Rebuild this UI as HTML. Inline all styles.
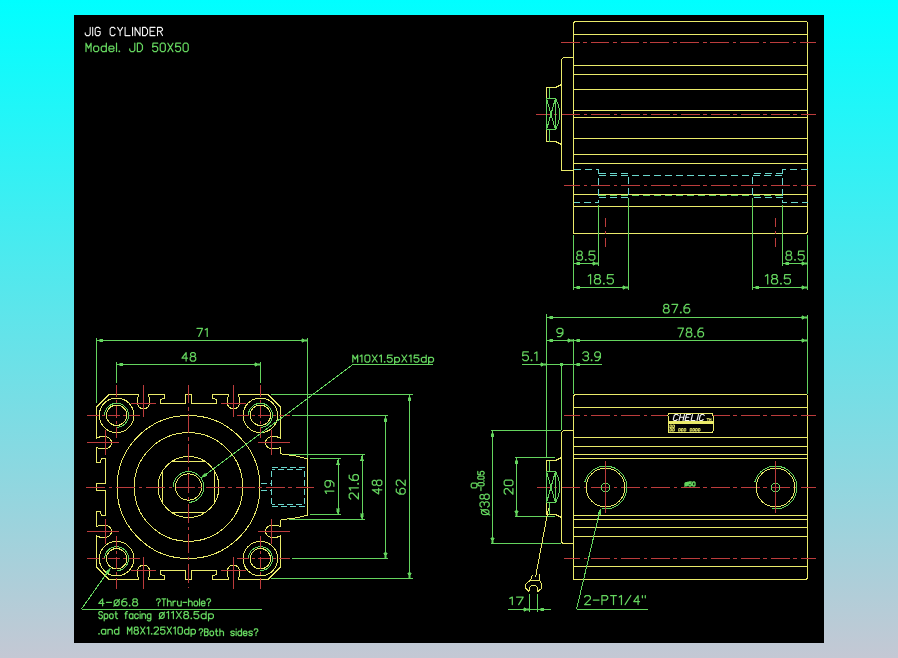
<!DOCTYPE html>
<html><head><meta charset="utf-8"><style>
html,body{margin:0;padding:0;width:898px;height:658px;overflow:hidden;}
body{background:linear-gradient(to bottom,#00ffff 0%,#c4c8d4 100%);}
svg{position:absolute;left:0;top:0;}
text{font-family:"Liberation Sans",sans-serif;}
</style></head><body>
<svg width="898" height="658" viewBox="0 0 898 658" shape-rendering="crispEdges">
<rect x="74" y="15" width="750" height="628" fill="#000"/>
<g stroke-width="1" fill="none">
<path d="M573.5 233.5 L573.5 24 Q573.5 21.5 576 21.5 L805 21.5 Q807.5 21.5 807.5 24 L807.5 231 Q807.5 233.5 805 233.5 Z" stroke="#eaea6a" fill="none"/>
<line x1="573.5" y1="34.5" x2="807.5" y2="34.5" stroke="#eaea6a"/>
<line x1="573.5" y1="65.5" x2="807.5" y2="65.5" stroke="#eaea6a"/>
<line x1="573.5" y1="74.5" x2="807.5" y2="74.5" stroke="#eaea6a"/>
<line x1="573.5" y1="89.5" x2="807.5" y2="89.5" stroke="#eaea6a"/>
<line x1="573.5" y1="110.5" x2="807.5" y2="110.5" stroke="#eaea6a"/>
<line x1="573.5" y1="117.5" x2="807.5" y2="117.5" stroke="#eaea6a"/>
<line x1="573.5" y1="138.5" x2="807.5" y2="138.5" stroke="#eaea6a"/>
<line x1="573.5" y1="154.5" x2="807.5" y2="154.5" stroke="#eaea6a"/>
<line x1="573.5" y1="163.5" x2="807.5" y2="163.5" stroke="#eaea6a"/>
<line x1="573.5" y1="194.5" x2="807.5" y2="194.5" stroke="#eaea6a"/>
<line x1="573.5" y1="206.5" x2="807.5" y2="206.5" stroke="#eaea6a"/>
<line x1="560.6" y1="42.5" x2="815.7" y2="42.5" stroke="#bc3c3c" stroke-dasharray="18.9 3.7 3.5 3.85"/>
<line x1="536" y1="114.5" x2="815.7" y2="114.5" stroke="#bc3c3c" stroke-dasharray="18.9 3.7 3.5 3.85" stroke-dashoffset="5"/>
<line x1="563.9" y1="185.5" x2="815.7" y2="185.5" stroke="#bc3c3c" stroke-dasharray="18.9 3.7 3.5 3.85" stroke-dashoffset="2.9"/>
<path d="M573.5 57.5 L564.5 57.5 Q561.5 57.5 561.5 60.5 L561.5 170.5 L573.5 170.5" stroke="#eaea6a" fill="none"/>
<path d="M561.5 84.5 L555.5 87.5 L546.5 87.5 L546.5 141.5 L555.5 141.5 L561.5 144.5" stroke="#eaea6a" fill="none"/>
<line x1="549.5" y1="87.5" x2="549.5" y2="98.5" stroke="#64d45e"/>
<line x1="549.5" y1="129.5" x2="549.5" y2="141.5" stroke="#64d45e"/>
<path d="M546.5 98.5 L555.5 98.5 L555.5 129.5 L546.5 129.5 Z" stroke="#64d45e" fill="none"/>
<line x1="547" y1="100" x2="555" y2="128" stroke="#64d45e"/>
<line x1="555" y1="100" x2="547" y2="128" stroke="#64d45e"/>
<path d="M555.5 98.5 Q564 114 555.5 129.5" stroke="#64d45e" fill="none"/>
<path d="M573.5 169.5 L598.5 169.5 L598.5 202.5 L573.5 202.5" stroke="#6ad6cc" fill="none" stroke-dasharray="7 4"/>
<path d="M598.5 173.5 L628.5 173.5 L628.5 197.5 L598.5 197.5" stroke="#6ad6cc" fill="none" stroke-dasharray="7 4"/>
<path d="M807.5 169.5 L782.5 169.5 L782.5 202.5 L807.5 202.5" stroke="#6ad6cc" fill="none" stroke-dasharray="7 4"/>
<path d="M782.5 173.5 L752.5 173.5 L752.5 197.5 L782.5 197.5" stroke="#6ad6cc" fill="none" stroke-dasharray="7 4"/>
<line x1="598.5" y1="175.5" x2="782.5" y2="175.5" stroke="#6ad6cc" stroke-dasharray="7 4"/>
<line x1="598.5" y1="195.5" x2="782.5" y2="195.5" stroke="#64d45e" stroke-dasharray="7 4"/>
<line x1="573.5" y1="235" x2="573.5" y2="290" stroke="#64d45e"/>
<line x1="598.5" y1="205" x2="598.5" y2="266" stroke="#64d45e"/>
<line x1="628.5" y1="198" x2="628.5" y2="290" stroke="#64d45e"/>
<line x1="752.5" y1="198" x2="752.5" y2="290" stroke="#64d45e"/>
<line x1="782.5" y1="205" x2="782.5" y2="266" stroke="#64d45e"/>
<line x1="807.5" y1="235" x2="807.5" y2="290" stroke="#64d45e"/>
<line x1="605.5" y1="218" x2="605.5" y2="248" stroke="#bc3c3c" stroke-dasharray="9 4.4 2.2 4.4"/>
<line x1="775.5" y1="218" x2="775.5" y2="248" stroke="#bc3c3c" stroke-dasharray="9 4.4 2.2 4.4"/>
<line x1="573.5" y1="263.5" x2="598.5" y2="263.5" stroke="#64d45e"/>
<path d="M573.5 263.5L579.5 261.9L579.5 265.1Z" fill="#64d45e" stroke="#64d45e" stroke-width="0.5"/>
<path d="M598.5 263.5L592.5 265.1L592.5 261.9Z" fill="#64d45e" stroke="#64d45e" stroke-width="0.5"/>
<line x1="573.5" y1="287.5" x2="628.5" y2="287.5" stroke="#64d45e"/>
<path d="M573.5 287.5L579.5 285.9L579.5 289.1Z" fill="#64d45e" stroke="#64d45e" stroke-width="0.5"/>
<path d="M628.5 287.5L622.5 289.1L622.5 285.9Z" fill="#64d45e" stroke="#64d45e" stroke-width="0.5"/>
<line x1="782.5" y1="263.5" x2="807.5" y2="263.5" stroke="#64d45e"/>
<path d="M782.5 263.5L788.5 261.9L788.5 265.1Z" fill="#64d45e" stroke="#64d45e" stroke-width="0.5"/>
<path d="M807.5 263.5L801.5 265.1L801.5 261.9Z" fill="#64d45e" stroke="#64d45e" stroke-width="0.5"/>
<line x1="752.5" y1="287.5" x2="807.5" y2="287.5" stroke="#64d45e"/>
<path d="M752.5 287.5L758.5 285.9L758.5 289.1Z" fill="#64d45e" stroke="#64d45e" stroke-width="0.5"/>
<path d="M807.5 287.5L801.5 289.1L801.5 285.9Z" fill="#64d45e" stroke="#64d45e" stroke-width="0.5"/>
<path d="M573.5 579.5 L573.5 397 Q573.5 394.5 576 394.5 L805 394.5 Q807.5 394.5 807.5 397 L807.5 577 Q807.5 579.5 805 579.5 Z" stroke="#eaea6a" fill="none"/>
<line x1="573.5" y1="407.5" x2="807.5" y2="407.5" stroke="#eaea6a"/>
<line x1="573.5" y1="437.5" x2="807.5" y2="437.5" stroke="#eaea6a"/>
<line x1="573.5" y1="446.5" x2="807.5" y2="446.5" stroke="#eaea6a"/>
<line x1="573.5" y1="454.5" x2="807.5" y2="454.5" stroke="#eaea6a"/>
<line x1="573.5" y1="458.5" x2="807.5" y2="458.5" stroke="#eaea6a"/>
<line x1="573.5" y1="515.5" x2="807.5" y2="515.5" stroke="#eaea6a"/>
<line x1="573.5" y1="519.5" x2="807.5" y2="519.5" stroke="#eaea6a"/>
<line x1="573.5" y1="527.5" x2="807.5" y2="527.5" stroke="#eaea6a"/>
<line x1="573.5" y1="536.5" x2="807.5" y2="536.5" stroke="#eaea6a"/>
<line x1="573.5" y1="566.5" x2="807.5" y2="566.5" stroke="#eaea6a"/>
<line x1="563.9" y1="415.5" x2="815.7" y2="415.5" stroke="#bc3c3c" stroke-dasharray="18.9 3.7 3.5 3.85" stroke-dashoffset="2.9"/>
<line x1="536.7" y1="487.5" x2="815.7" y2="487.5" stroke="#bc3c3c" stroke-dasharray="18.9 3.7 3.5 3.85" stroke-dashoffset="5.6"/>
<line x1="563.9" y1="558.5" x2="815.7" y2="558.5" stroke="#bc3c3c" stroke-dasharray="18.9 3.7 3.5 3.85" stroke-dashoffset="2.9"/>
<path d="M573.5 430.5 L564.5 430.5 Q561.5 430.5 561.5 433.5 L561.5 540.5 Q561.5 543.5 564.5 543.5 L573.5 543.5" stroke="#eaea6a" fill="none"/>
<path d="M561.5 457.5 L555.5 460.5 L546.5 460.5 L546.5 514.5 L555.5 514.5 L561.5 517.5" stroke="#eaea6a" fill="none"/>
<line x1="549.5" y1="460.5" x2="549.5" y2="471.5" stroke="#64d45e"/>
<line x1="549.5" y1="502.5" x2="549.5" y2="514.5" stroke="#64d45e"/>
<path d="M546.5 471.5 L555.5 471.5 L555.5 502.5 L546.5 502.5 Z" stroke="#64d45e" fill="none"/>
<line x1="547" y1="473" x2="555" y2="501" stroke="#64d45e"/>
<line x1="555" y1="473" x2="547" y2="501" stroke="#64d45e"/>
<path d="M555.5 471.5 Q564 487 555.5 502.5" stroke="#64d45e" fill="none"/>
<path d="M670 413.5 L711 413.5 Q713 413.5 713 415.5 L713 430.5 Q713 432.5 711 432.5 L670 432.5 Q668 432.5 668 430.5 L668 415.5 Q668 413.5 670 413.5 Z" stroke="#eaea6a" fill="#000"/>
<rect x="668" y="421" width="45" height="2.8" fill="#eaea6a"/>
<circle cx="605.5" cy="487.5" r="19.4" stroke="#eaea6a" fill="none"/>
<path d="M584.83 481.96A21.4 21.4 0 1 1 601.78 508.57" stroke="#64d45e" fill="none"/>
<circle cx="605.5" cy="487.5" r="4.1" stroke="#64d45e" fill="none"/>
<line x1="605.5" y1="460.5" x2="605.5" y2="512.5" stroke="#bc3c3c"/>
<circle cx="775.5" cy="487.5" r="19.4" stroke="#eaea6a" fill="none"/>
<path d="M754.83 481.96A21.4 21.4 0 1 1 771.78 508.57" stroke="#64d45e" fill="none"/>
<circle cx="775.5" cy="487.5" r="4.1" stroke="#64d45e" fill="none"/>
<line x1="775.5" y1="460.5" x2="775.5" y2="512.5" stroke="#bc3c3c"/>
<line x1="546.5" y1="314" x2="546.5" y2="457" stroke="#64d45e"/>
<line x1="807.5" y1="315" x2="807.5" y2="394" stroke="#64d45e"/>
<line x1="573.5" y1="338.5" x2="573.5" y2="394" stroke="#64d45e"/>
<line x1="561.5" y1="362.5" x2="561.5" y2="430" stroke="#64d45e"/>
<line x1="546.5" y1="317.5" x2="807.5" y2="317.5" stroke="#64d45e"/>
<path d="M546.5 317.5L552.5 315.9L552.5 319.1Z" fill="#64d45e" stroke="#64d45e" stroke-width="0.5"/>
<path d="M807.5 317.5L801.5 319.1L801.5 315.9Z" fill="#64d45e" stroke="#64d45e" stroke-width="0.5"/>
<line x1="546.5" y1="340.5" x2="807.5" y2="340.5" stroke="#64d45e"/>
<path d="M546.5 340.5L552.5 338.9L552.5 342.1Z" fill="#64d45e" stroke="#64d45e" stroke-width="0.5"/>
<path d="M573.5 340.5L567.5 342.1L567.5 338.9Z" fill="#64d45e" stroke="#64d45e" stroke-width="0.5"/>
<path d="M573.5 340.5L579.5 338.9L579.5 342.1Z" fill="#64d45e" stroke="#64d45e" stroke-width="0.5"/>
<path d="M807.5 340.5L801.5 342.1L801.5 338.9Z" fill="#64d45e" stroke="#64d45e" stroke-width="0.5"/>
<line x1="521.5" y1="364.5" x2="601.5" y2="364.5" stroke="#64d45e"/>
<path d="M546.5 364.5L540.5 366.1L540.5 362.9Z" fill="#64d45e" stroke="#64d45e" stroke-width="0.5"/>
<circle cx="561.5" cy="364.5" r="1.2" stroke="#64d45e" fill="#64d45e"/>
<path d="M573.5 364.5L579.5 362.9L579.5 366.1Z" fill="#64d45e" stroke="#64d45e" stroke-width="0.5"/>
<line x1="491" y1="430.5" x2="561" y2="430.5" stroke="#64d45e"/>
<line x1="491" y1="543.5" x2="561" y2="543.5" stroke="#64d45e"/>
<line x1="492.5" y1="430.5" x2="492.5" y2="543.5" stroke="#64d45e"/>
<path d="M492.5 430.5L494.1 436.5L490.9 436.5Z" fill="#64d45e" stroke="#64d45e" stroke-width="0.5"/>
<path d="M492.5 543.5L490.9 537.5L494.1 537.5Z" fill="#64d45e" stroke="#64d45e" stroke-width="0.5"/>
<line x1="514.5" y1="457.5" x2="555" y2="457.5" stroke="#64d45e"/>
<line x1="514.5" y1="516.5" x2="555" y2="516.5" stroke="#64d45e"/>
<line x1="516.5" y1="457.5" x2="516.5" y2="516.5" stroke="#64d45e"/>
<path d="M516.5 457.5L518.1 463.5L514.9 463.5Z" fill="#64d45e" stroke="#64d45e" stroke-width="0.5"/>
<path d="M516.5 516.5L514.9 510.5L518.1 510.5Z" fill="#64d45e" stroke="#64d45e" stroke-width="0.5"/>
<line x1="548.5" y1="508" x2="535.6" y2="577" stroke="#eaea6a"/>
<path d="M529 591.6 L525.7 588 L525.7 584.4 L529.8 580.6 L539.8 580.6 L541.8 584.4 L541.8 588 L538 591.6 L537.5 587.5 L535.5 585.2 L531.5 585.2 L529.5 587.5 Z" stroke="#eaea6a" fill="none"/>
<line x1="532.6" y1="575" x2="530.2" y2="580.6" stroke="#eaea6a"/>
<line x1="539.5" y1="574" x2="539.8" y2="580.6" stroke="#eaea6a"/>
<line x1="529.5" y1="594" x2="529.5" y2="612" stroke="#64d45e"/>
<line x1="537.5" y1="594" x2="537.5" y2="612" stroke="#64d45e"/>
<line x1="508" y1="609.5" x2="551" y2="609.5" stroke="#64d45e"/>
<path d="M529.5 609.5L523.5 611.1L523.5 607.9Z" fill="#64d45e" stroke="#64d45e" stroke-width="0.5"/>
<path d="M537.5 609.5L543.5 607.9L543.5 611.1Z" fill="#64d45e" stroke="#64d45e" stroke-width="0.5"/>
<line x1="600" y1="510" x2="576.5" y2="609.5" stroke="#64d45e"/>
<line x1="576.5" y1="609.5" x2="648" y2="609.5" stroke="#64d45e"/>
<path d="M600.5 508.5L600.71 514.71L597.6 513.99Z" fill="#64d45e" stroke="#64d45e" stroke-width="0.5"/>
<path d="M108.85 394.5L138.82 394.5L137.52 398.4L137.52 403.46A6.05 6.05 0 0 0 149.57 403.46L149.57 398.4L148.27 394.5L164.01 394.5L164.01 398.35L160.22 399.56L160.22 403.46L185.21 403.46L185.21 394.5L191.79 394.5L191.79 403.46L216.78 403.46L216.78 399.56L212.99 398.35L212.99 394.5L228.73 394.5L227.43 398.4L227.43 403.46A6.05 6.05 0 0 0 239.48 403.46L239.48 398.4L238.18 394.5L268.15 394.5L280.5 406.91L280.5 438L276.62 436.7L271.59 436.7A6.05 6.05 0 0 0 271.59 448.81L276.62 448.81L280.5 447.51L280.5 453.7L284.2 454.4Q296 455.5 306.5 458.5L307.5 458.5L307.5 515.5L306.5 515.5Q296 518.3 284.2 519.4L280.5 520.1L280.5 526.49L276.62 525.19L271.59 525.19A6.05 6.05 0 0 0 271.59 537.3L276.62 537.3L280.5 536L280.5 567.09L268.15 579.5L238.18 579.5L239.48 575.6L239.48 570.54A6.05 6.05 0 0 0 227.43 570.54L227.43 575.6L228.73 579.5L212.99 579.5L212.99 575.65L216.78 574.44L216.78 570.54L191.79 570.54L191.79 579.5L185.21 579.5L185.21 570.54L160.22 570.54L160.22 574.44L164.01 575.65L164.01 579.5L148.27 579.5L149.57 575.6L149.57 570.54A6.05 6.05 0 0 0 137.52 570.54L137.52 575.6L138.82 579.5L108.85 579.5L96.5 567.09L96.5 536L100.38 537.3L105.41 537.3A6.05 6.05 0 0 0 105.41 525.19L100.38 525.19L96.5 526.49L96.5 511.63L100.33 511.63L101.53 515.43L105.41 515.43L105.41 490.3L96.5 490.3L96.5 483.7L105.41 483.7L105.41 458.57L101.53 458.57L100.33 462.37L96.5 462.37L96.5 447.51L100.38 448.81L105.41 448.81A6.05 6.05 0 0 0 105.41 436.7L100.38 436.7L96.5 438L96.5 406.91Z" stroke="#eaea6a" fill="none"/>
<circle cx="188.5" cy="487" r="71.5" stroke="#eaea6a" fill="none"/>
<circle cx="188.5" cy="487" r="54.3" stroke="#eaea6a" fill="none"/>
<circle cx="188.5" cy="487" r="30.5" stroke="#eaea6a" fill="none"/>
<line x1="172.23" y1="461.2" x2="204.77" y2="461.2" stroke="#eaea6a"/>
<line x1="214.3" y1="470.73" x2="214.3" y2="503.27" stroke="#eaea6a"/>
<line x1="204.77" y1="512.8" x2="172.23" y2="512.8" stroke="#eaea6a"/>
<line x1="162.7" y1="503.27" x2="162.7" y2="470.73" stroke="#eaea6a"/>
<path d="M173.2 487A15.3 15.3 0 1 1 188.5 502.3" stroke="#64d45e" fill="none"/>
<circle cx="188.5" cy="487" r="13.1" stroke="#eaea6a" fill="none"/>
<line x1="86" y1="487.5" x2="314" y2="487.5" stroke="#bc3c3c" stroke-dasharray="18.9 3.7 3.5 3.85"/>
<line x1="188.5" y1="384.5" x2="188.5" y2="588" stroke="#bc3c3c" stroke-dasharray="18.9 3.7 3.5 3.85"/>
<circle cx="116.6" cy="415.3" r="17.3" stroke="#eaea6a" fill="none"/>
<path d="M104.6 415.3A12 12 0 1 1 116.6 427.3" stroke="#64d45e" fill="none"/>
<circle cx="116.6" cy="415.3" r="10.2" stroke="#eaea6a" fill="none"/>
<line x1="86.6" y1="415.3" x2="139.7" y2="415.3" stroke="#bc3c3c" stroke-dasharray="12 3 3 3"/>
<line x1="116.6" y1="385.3" x2="116.6" y2="438.4" stroke="#bc3c3c" stroke-dasharray="12 3 3 3"/>
<circle cx="116.6" cy="558.7" r="17.3" stroke="#eaea6a" fill="none"/>
<path d="M104.6 558.7A12 12 0 1 1 116.6 570.7" stroke="#64d45e" fill="none"/>
<circle cx="116.6" cy="558.7" r="10.2" stroke="#eaea6a" fill="none"/>
<line x1="86.6" y1="558.7" x2="139.7" y2="558.7" stroke="#bc3c3c" stroke-dasharray="12 3 3 3"/>
<line x1="116.6" y1="535.6" x2="116.6" y2="588.7" stroke="#bc3c3c" stroke-dasharray="12 3 3 3"/>
<circle cx="260.4" cy="415.3" r="17.3" stroke="#eaea6a" fill="none"/>
<path d="M248.4 415.3A12 12 0 1 1 260.4 427.3" stroke="#64d45e" fill="none"/>
<circle cx="260.4" cy="415.3" r="10.2" stroke="#eaea6a" fill="none"/>
<line x1="237.3" y1="415.3" x2="290.4" y2="415.3" stroke="#bc3c3c" stroke-dasharray="12 3 3 3"/>
<line x1="260.4" y1="385.3" x2="260.4" y2="438.4" stroke="#bc3c3c" stroke-dasharray="12 3 3 3"/>
<circle cx="260.4" cy="558.7" r="17.3" stroke="#eaea6a" fill="none"/>
<path d="M248.4 558.7A12 12 0 1 1 260.4 570.7" stroke="#64d45e" fill="none"/>
<circle cx="260.4" cy="558.7" r="10.2" stroke="#eaea6a" fill="none"/>
<line x1="237.3" y1="558.7" x2="290.4" y2="558.7" stroke="#bc3c3c" stroke-dasharray="12 3 3 3"/>
<line x1="260.4" y1="535.6" x2="260.4" y2="588.7" stroke="#bc3c3c" stroke-dasharray="12 3 3 3"/>
<line x1="131.05" y1="403.46" x2="156.05" y2="403.46" stroke="#bc3c3c"/>
<line x1="143.55" y1="416.96" x2="143.55" y2="385.46" stroke="#bc3c3c"/>
<line x1="220.95" y1="403.46" x2="245.95" y2="403.46" stroke="#bc3c3c"/>
<line x1="233.45" y1="416.96" x2="233.45" y2="385.46" stroke="#bc3c3c"/>
<line x1="271.59" y1="430.25" x2="271.59" y2="455.25" stroke="#bc3c3c"/>
<line x1="258.09" y1="442.75" x2="289.59" y2="442.75" stroke="#bc3c3c"/>
<line x1="271.59" y1="518.75" x2="271.59" y2="543.75" stroke="#bc3c3c"/>
<line x1="258.09" y1="531.25" x2="289.59" y2="531.25" stroke="#bc3c3c"/>
<line x1="245.95" y1="570.54" x2="220.95" y2="570.54" stroke="#bc3c3c"/>
<line x1="233.45" y1="557.04" x2="233.45" y2="588.54" stroke="#bc3c3c"/>
<line x1="156.05" y1="570.54" x2="131.05" y2="570.54" stroke="#bc3c3c"/>
<line x1="143.55" y1="557.04" x2="143.55" y2="588.54" stroke="#bc3c3c"/>
<line x1="105.41" y1="543.75" x2="105.41" y2="518.75" stroke="#bc3c3c"/>
<line x1="118.91" y1="531.25" x2="87.41" y2="531.25" stroke="#bc3c3c"/>
<line x1="105.41" y1="455.25" x2="105.41" y2="430.25" stroke="#bc3c3c"/>
<line x1="118.91" y1="442.75" x2="87.41" y2="442.75" stroke="#bc3c3c"/>
<path d="M271.5 467.5 L304.5 467.5 L304.5 506.5 L271.5 506.5 Z" stroke="#6ad6cc" fill="none" stroke-dasharray="6 3"/>
<line x1="271.5" y1="469.5" x2="304.5" y2="469.5" stroke="#6ad6cc" stroke-dasharray="6 3" stroke-dashoffset="3"/>
<line x1="271.5" y1="504.5" x2="304.5" y2="504.5" stroke="#6ad6cc" stroke-dasharray="6 3" stroke-dashoffset="3"/>
<line x1="260.5" y1="483.5" x2="271.5" y2="483.5" stroke="#6ad6cc" stroke-dasharray="6 3"/>
<line x1="260.5" y1="490.5" x2="271.5" y2="490.5" stroke="#6ad6cc" stroke-dasharray="6 3"/>
<line x1="96.5" y1="338" x2="96.5" y2="403" stroke="#64d45e"/>
<line x1="307.5" y1="338" x2="307.5" y2="458" stroke="#64d45e"/>
<line x1="96.5" y1="340.5" x2="307.5" y2="340.5" stroke="#64d45e"/>
<path d="M96.5 340.5L102.5 338.9L102.5 342.1Z" fill="#64d45e" stroke="#64d45e" stroke-width="0.5"/>
<path d="M307.5 340.5L301.5 342.1L301.5 338.9Z" fill="#64d45e" stroke="#64d45e" stroke-width="0.5"/>
<line x1="116.5" y1="362" x2="116.5" y2="382.5" stroke="#64d45e"/>
<line x1="260.5" y1="362" x2="260.5" y2="382.5" stroke="#64d45e"/>
<line x1="116.5" y1="364.5" x2="260.5" y2="364.5" stroke="#64d45e"/>
<path d="M116.5 364.5L122.5 362.9L122.5 366.1Z" fill="#64d45e" stroke="#64d45e" stroke-width="0.5"/>
<path d="M260.5 364.5L254.5 366.1L254.5 362.9Z" fill="#64d45e" stroke="#64d45e" stroke-width="0.5"/>
<line x1="201" y1="478" x2="353" y2="364.5" stroke="#64d45e"/>
<path d="M201 478L204.85 473.13L206.76 475.69Z" fill="#64d45e" stroke="#64d45e" stroke-width="0.5"/>
<line x1="353" y1="364.5" x2="433" y2="364.5" stroke="#64d45e"/>
<line x1="271" y1="394.5" x2="412.5" y2="394.5" stroke="#64d45e"/>
<line x1="271" y1="578.5" x2="412.5" y2="578.5" stroke="#64d45e"/>
<line x1="409.5" y1="394.5" x2="409.5" y2="578.5" stroke="#64d45e"/>
<path d="M409.5 394.5L411.1 400.5L407.9 400.5Z" fill="#64d45e" stroke="#64d45e" stroke-width="0.5"/>
<path d="M409.5 578.5L407.9 572.5L411.1 572.5Z" fill="#64d45e" stroke="#64d45e" stroke-width="0.5"/>
<line x1="292" y1="415.5" x2="388" y2="415.5" stroke="#64d45e"/>
<line x1="292" y1="558.5" x2="388" y2="558.5" stroke="#64d45e"/>
<line x1="385.5" y1="415.5" x2="385.5" y2="558.5" stroke="#64d45e"/>
<path d="M385.5 415.5L387.1 421.5L383.9 421.5Z" fill="#64d45e" stroke="#64d45e" stroke-width="0.5"/>
<path d="M385.5 558.5L383.9 552.5L387.1 552.5Z" fill="#64d45e" stroke="#64d45e" stroke-width="0.5"/>
<line x1="289" y1="454.5" x2="364.5" y2="454.5" stroke="#64d45e"/>
<line x1="289" y1="519.5" x2="364.5" y2="519.5" stroke="#64d45e"/>
<line x1="362" y1="454.5" x2="362" y2="519.5" stroke="#64d45e"/>
<path d="M362 454.5L363.6 460.5L360.4 460.5Z" fill="#64d45e" stroke="#64d45e" stroke-width="0.5"/>
<path d="M362 519.5L360.4 513.5L363.6 513.5Z" fill="#64d45e" stroke="#64d45e" stroke-width="0.5"/>
<line x1="309.5" y1="458.5" x2="340.5" y2="458.5" stroke="#64d45e"/>
<line x1="309.5" y1="514.5" x2="340.5" y2="514.5" stroke="#64d45e"/>
<line x1="338" y1="458.5" x2="338" y2="514.5" stroke="#64d45e"/>
<path d="M338 458.5L339.6 464.5L336.4 464.5Z" fill="#64d45e" stroke="#64d45e" stroke-width="0.5"/>
<path d="M338 514.5L336.4 508.5L339.6 508.5Z" fill="#64d45e" stroke="#64d45e" stroke-width="0.5"/>
<line x1="81.5" y1="609" x2="262" y2="609" stroke="#64d45e"/>
<line x1="81.5" y1="609" x2="110.5" y2="568" stroke="#64d45e"/>
<path d="M110.5 568L108.34 573.82L105.73 571.97Z" fill="#64d45e" stroke="#64d45e" stroke-width="0.5"/>
<path d="M90.19 27.40L90.19 34.23L88.94 35.60L86.45 35.60L85.20 34.23L85.20 32.87M92.68 35.60L92.68 27.40M100.16 28.77L98.91 27.40L96.42 27.40L95.17 28.77L95.17 34.23L96.42 35.60L98.91 35.60L100.16 34.23L100.16 31.50L97.67 31.50M115.12 28.77L113.88 27.40L111.38 27.40L110.14 28.77L110.14 34.23L111.38 35.60L113.88 35.60L115.12 34.23M117.62 27.40L120.11 31.50L122.60 27.40M120.11 31.50L120.11 35.60M125.10 27.40L125.10 35.60L130.08 35.60M132.58 35.60L132.58 27.40M135.07 35.60L135.07 27.40L140.06 35.60L140.06 27.40M142.55 35.60L142.55 27.40L145.54 27.40L147.54 29.59L147.54 33.41L145.54 35.60L142.55 35.60M155.02 27.40L150.03 27.40L150.03 35.60L155.02 35.60M150.03 31.23L153.77 31.23M157.51 35.60L157.51 27.40L161.25 27.40L162.50 28.77L162.50 30.00L161.25 31.23L157.51 31.23M160.01 31.23L162.50 35.60" stroke="#f4f4f4" stroke-width="1.1" fill="none" stroke-linejoin="round" stroke-linecap="round" shape-rendering="geometricPrecision"/>
<path d="M86.00 51.60L86.00 43.20L88.54 48.10L91.08 43.20L91.08 51.60M94.90 51.60L97.44 51.60L98.71 50.20L98.71 47.40L97.44 46.00L94.90 46.00L93.63 47.40L93.63 50.20L94.90 51.60M106.34 43.20L106.34 51.60M106.34 47.40L105.07 46.00L102.52 46.00L101.25 47.40L101.25 50.20L102.52 51.60L105.07 51.60L106.34 50.20M108.88 48.80L113.97 48.80L113.97 47.40L112.69 46.00L110.15 46.00L108.88 47.40L108.88 50.20L110.15 51.60L112.69 51.60L113.97 50.48M116.51 43.20L116.51 51.60M119.05 51.60L119.56 51.60L119.56 51.04L119.05 51.04L119.05 51.60M134.81 43.20L134.81 50.20L133.54 51.60L131.00 51.60L129.73 50.20L129.73 48.80M137.35 51.60L137.35 43.20L140.40 43.20L142.44 45.44L142.44 49.36L140.40 51.60L137.35 51.60M157.69 43.20L152.99 43.20L152.61 47.12L153.88 46.42L156.42 46.42L157.69 47.82L157.69 50.20L156.42 51.60L153.88 51.60L152.61 50.20M161.51 51.60L164.05 51.60L165.32 50.20L165.32 44.60L164.05 43.20L161.51 43.20L160.23 44.60L160.23 50.20L161.51 51.60M167.86 43.20L172.95 51.60M172.95 43.20L167.86 51.60M180.57 43.20L175.87 43.20L175.49 47.12L176.76 46.42L179.30 46.42L180.57 47.82L180.57 50.20L179.30 51.60L176.76 51.60L175.49 50.20M184.39 51.60L186.93 51.60L188.20 50.20L188.20 44.60L186.93 43.20L184.39 43.20L183.12 44.60L183.12 50.20L184.39 51.60" stroke="#64d45e" stroke-width="1.25" fill="none" stroke-linejoin="round" stroke-linecap="round" shape-rendering="geometricPrecision"/>
<path d="M578.08 255.15L577.04 253.80L577.04 252.30L578.22 251.10L580.88 251.10L582.06 252.30L582.06 253.80L581.03 255.15L578.08 255.15L576.60 256.65L576.60 258.75L577.93 260.10L581.18 260.10L582.50 258.75L582.50 256.65L581.03 255.15M585.45 260.10L586.05 260.10L586.05 259.50L585.45 259.50L585.45 260.10M594.90 251.10L589.44 251.10L589.00 255.30L590.47 254.55L593.42 254.55L594.90 256.05L594.90 258.60L593.42 260.10L590.47 260.10L589.00 258.60" stroke="#64d45e" stroke-width="1.25" fill="none" stroke-linejoin="round" stroke-linecap="round" shape-rendering="geometricPrecision"/>
<path d="M588.30 276.07L590.59 274.50L590.59 283.90M595.92 278.73L594.85 277.32L594.85 275.75L596.07 274.50L598.82 274.50L600.04 275.75L600.04 277.32L598.97 278.73L595.92 278.73L594.40 280.30L594.40 282.49L595.77 283.90L599.12 283.90L600.50 282.49L600.50 280.30L598.97 278.73M603.54 283.90L604.15 283.90L604.15 283.27L603.54 283.27L603.54 283.90M613.30 274.50L607.66 274.50L607.20 278.89L608.73 278.10L611.78 278.10L613.30 279.67L613.30 282.33L611.78 283.90L608.73 283.90L607.20 282.33" stroke="#64d45e" stroke-width="1.25" fill="none" stroke-linejoin="round" stroke-linecap="round" shape-rendering="geometricPrecision"/>
<path d="M787.33 255.15L786.29 253.80L786.29 252.30L787.47 251.10L790.13 251.10L791.31 252.30L791.31 253.80L790.28 255.15L787.33 255.15L785.85 256.65L785.85 258.75L787.18 260.10L790.43 260.10L791.75 258.75L791.75 256.65L790.28 255.15M794.70 260.10L795.30 260.10L795.30 259.50L794.70 259.50L794.70 260.10M804.15 251.10L798.69 251.10L798.25 255.30L799.72 254.55L802.67 254.55L804.15 256.05L804.15 258.60L802.67 260.10L799.72 260.10L798.25 258.60" stroke="#64d45e" stroke-width="1.25" fill="none" stroke-linejoin="round" stroke-linecap="round" shape-rendering="geometricPrecision"/>
<path d="M765.40 276.07L767.69 274.50L767.69 283.90M773.02 278.73L771.95 277.32L771.95 275.75L773.17 274.50L775.92 274.50L777.14 275.75L777.14 277.32L776.07 278.73L773.02 278.73L771.50 280.30L771.50 282.49L772.87 283.90L776.22 283.90L777.60 282.49L777.60 280.30L776.07 278.73M780.64 283.90L781.25 283.90L781.25 283.27L780.64 283.27L780.64 283.90M790.40 274.50L784.76 274.50L784.30 278.89L785.83 278.10L788.88 278.10L790.40 279.67L790.40 282.33L788.88 283.90L785.83 283.90L784.30 282.33" stroke="#64d45e" stroke-width="1.25" fill="none" stroke-linejoin="round" stroke-linecap="round" shape-rendering="geometricPrecision"/>
<path d="M664.83 308.18L663.83 306.92L663.83 305.52L664.97 304.40L667.55 304.40L668.69 305.52L668.69 306.92L667.69 308.18L664.83 308.18L663.40 309.58L663.40 311.54L664.69 312.80L667.83 312.80L669.12 311.54L669.12 309.58L667.69 308.18M671.98 304.40L677.69 304.40L673.83 312.80M680.55 312.80L681.12 312.80L681.12 312.24L680.55 312.24L680.55 312.80M689.13 304.40L686.27 304.40L683.98 307.20L683.98 311.40L685.41 312.80L688.27 312.80L689.70 311.40L689.70 309.16L688.27 307.76L685.41 307.76L683.98 309.16" stroke="#64d45e" stroke-width="1.25" fill="none" stroke-linejoin="round" stroke-linecap="round" shape-rendering="geometricPrecision"/>
<path d="M677.90 328.00L683.47 328.00L679.71 336.90M687.64 332.00L686.67 330.67L686.67 329.19L687.78 328.00L690.28 328.00L691.40 329.19L691.40 330.67L690.42 332.00L687.64 332.00L686.25 333.49L686.25 335.56L687.50 336.90L690.56 336.90L691.81 335.56L691.81 333.49L690.42 332.00M694.60 336.90L695.15 336.90L695.15 336.31L694.60 336.31L694.60 336.90M702.94 328.00L700.16 328.00L697.93 330.97L697.93 335.42L699.33 336.90L702.11 336.90L703.50 335.42L703.50 333.04L702.11 331.56L699.33 331.56L697.93 333.04" stroke="#64d45e" stroke-width="1.25" fill="none" stroke-linejoin="round" stroke-linecap="round" shape-rendering="geometricPrecision"/>
<path d="M557.50 336.50L560.50 336.50L562.90 333.80L562.90 329.75L561.40 328.40L558.40 328.40L556.90 329.75L556.90 331.91L558.40 333.26L561.40 333.26L562.90 331.91" stroke="#64d45e" stroke-width="1.25" fill="none" stroke-linejoin="round" stroke-linecap="round" shape-rendering="geometricPrecision"/>
<path d="M528.37 351.90L523.03 351.90L522.60 355.91L524.04 355.20L526.93 355.20L528.37 356.63L528.37 359.07L526.93 360.50L524.04 360.50L522.60 359.07M531.25 360.50L531.83 360.50L531.83 359.93L531.25 359.93L531.25 360.50M534.72 353.33L536.88 351.90L536.88 360.50" stroke="#64d45e" stroke-width="1.25" fill="none" stroke-linejoin="round" stroke-linecap="round" shape-rendering="geometricPrecision"/>
<path d="M582.80 353.33L584.22 351.90L587.06 351.90L588.48 353.33L588.48 354.77L587.06 355.91L584.93 355.91M587.06 355.91L588.48 357.20L588.48 359.07L587.06 360.50L584.22 360.50L582.80 359.07M591.32 360.50L591.88 360.50L591.88 359.93L591.32 359.93L591.32 360.50M595.29 360.50L598.13 360.50L600.40 357.63L600.40 353.33L598.98 351.90L596.14 351.90L594.72 353.33L594.72 355.63L596.14 357.06L598.98 357.06L600.40 355.63" stroke="#64d45e" stroke-width="1.25" fill="none" stroke-linejoin="round" stroke-linecap="round" shape-rendering="geometricPrecision"/>
<path d="M505.80 479.85L507.22 478.40L510.06 478.40L511.48 479.85L511.48 481.59L505.80 487.10L511.48 487.10M515.74 487.10L518.58 487.10L520.00 485.65L520.00 479.85L518.58 478.40L515.74 478.40L514.32 479.85L514.32 485.65L515.74 487.10" stroke="#64d45e" stroke-width="1.25" fill="none" stroke-linejoin="round" stroke-linecap="round" shape-rendering="geometricPrecision" transform="rotate(-90 512.90 487.10)"/>
<path d="M480.49 504.14L482.54 504.14L483.82 502.92L484.07 500.46L483.82 498.01L482.54 496.78L480.49 496.78L479.21 498.01L478.95 500.46L479.21 502.92L480.49 504.14M478.69 504.91L484.33 496.02M486.64 496.78L487.92 495.25L490.48 495.25L491.76 496.78L491.76 498.32L490.48 499.54L488.56 499.54M490.48 499.54L491.76 500.92L491.76 502.92L490.48 504.45L487.92 504.45L486.64 502.92M495.61 499.39L494.71 498.01L494.71 496.48L495.73 495.25L498.04 495.25L499.07 496.48L499.07 498.01L498.17 499.39L495.61 499.39L494.32 500.92L494.32 503.07L495.48 504.45L498.30 504.45L499.45 503.07L499.45 500.92L498.17 499.39" stroke="#64d45e" stroke-width="1.25" fill="none" stroke-linejoin="round" stroke-linecap="round" shape-rendering="geometricPrecision" transform="rotate(-90 489.20 504.45)"/>
<path d="M474.55 477.80L477.68 477.80M480.03 480.95L481.60 480.95L482.38 479.90L482.38 475.70L481.60 474.65L480.03 474.65L479.25 475.70L479.25 479.90L480.03 480.95M483.94 480.95L484.26 480.95L484.26 480.53L483.94 480.53L483.94 480.95M486.60 480.95L488.17 480.95L488.95 479.90L488.95 475.70L488.17 474.65L486.60 474.65L485.82 475.70L485.82 479.90L486.60 480.95M493.65 474.65L490.75 474.65L490.52 477.59L491.30 477.06L492.87 477.06L493.65 478.12L493.65 479.90L492.87 480.95L491.30 480.95L490.52 479.90" stroke="#64d45e" stroke-width="1.25" fill="none" stroke-linejoin="round" stroke-linecap="round" shape-rendering="geometricPrecision" transform="rotate(-90 484.10 480.95)"/>
<path d="M475.75 485.50L478.05 485.50L479.20 484.55L479.20 480.75L478.05 479.80L475.75 479.80L474.60 480.75L474.60 484.55L475.75 485.50" stroke="#64d45e" stroke-width="1.25" fill="none" stroke-linejoin="round" stroke-linecap="round" shape-rendering="geometricPrecision" transform="rotate(-90 476.90 485.50)"/>
<path d="M509.80 598.35L512.31 597.10L512.31 604.60M516.50 597.10L523.20 597.10L518.68 604.60" stroke="#64d45e" stroke-width="1.25" fill="none" stroke-linejoin="round" stroke-linecap="round" shape-rendering="geometricPrecision"/>
<path d="M584.60 597.02L586.05 595.50L588.94 595.50L590.38 597.02L590.38 598.84L584.60 604.60L590.38 604.60M593.27 600.05L599.05 600.05M601.94 604.60L601.94 595.50L606.28 595.50L607.72 597.02L607.72 598.53L606.28 600.05L601.94 600.05M610.61 595.50L616.40 595.50M613.50 595.50L613.50 604.60M619.29 597.02L621.45 595.50L621.45 604.60M625.07 604.60L630.85 595.50M638.07 604.60L638.07 595.50L633.74 601.57L639.52 601.57M642.41 595.50L642.41 597.77M645.30 595.50L645.30 597.77" stroke="#64d45e" stroke-width="1.25" fill="none" stroke-linejoin="round" stroke-linecap="round" shape-rendering="geometricPrecision"/>
<path d="M197.00 328.40L202.45 328.40L198.77 336.40M205.18 329.73L207.22 328.40L207.22 336.40" stroke="#64d45e" stroke-width="1.25" fill="none" stroke-linejoin="round" stroke-linecap="round" shape-rendering="geometricPrecision"/>
<path d="M186.11 361.00L186.11 352.60L182.00 358.20L187.48 358.20M191.59 356.38L190.63 355.12L190.63 353.72L191.73 352.60L194.19 352.60L195.29 353.72L195.29 355.12L194.33 356.38L191.59 356.38L190.22 357.78L190.22 359.74L191.45 361.00L194.47 361.00L195.70 359.74L195.70 357.78L194.33 356.38" stroke="#64d45e" stroke-width="1.25" fill="none" stroke-linejoin="round" stroke-linecap="round" shape-rendering="geometricPrecision"/>
<path d="M352.80 362.00L352.80 355.00L355.23 359.08L357.66 355.00L357.66 362.00M360.09 356.17L361.92 355.00L361.92 362.00M366.17 362.00L368.60 362.00L369.82 360.83L369.82 356.17L368.60 355.00L366.17 355.00L364.95 356.17L364.95 360.83L366.17 362.00M372.25 355.00L377.11 362.00M377.11 355.00L372.25 362.00M379.54 356.17L381.36 355.00L381.36 362.00M384.40 362.00L384.89 362.00L384.89 361.53L384.40 361.53L384.40 362.00M392.18 355.00L387.68 355.00L387.32 358.27L388.53 357.68L390.96 357.68L392.18 358.85L392.18 360.83L390.96 362.00L388.53 362.00L387.32 360.83M394.61 357.33L394.61 364.33M394.61 358.50L395.82 357.33L398.25 357.33L399.47 358.50L399.47 360.83L398.25 362.00L395.82 362.00L394.61 360.83M401.90 355.00L406.76 362.00M406.76 355.00L401.90 362.00M409.19 356.17L411.02 355.00L411.02 362.00M418.92 355.00L414.42 355.00L414.05 358.27L415.27 357.68L417.70 357.68L418.92 358.85L418.92 360.83L417.70 362.00L415.27 362.00L414.05 360.83M426.21 355.00L426.21 362.00M426.21 358.50L424.99 357.33L422.56 357.33L421.35 358.50L421.35 360.83L422.56 362.00L424.99 362.00L426.21 360.83M428.64 357.33L428.64 364.33M428.64 358.50L429.85 357.33L432.28 357.33L433.50 358.50L433.50 360.83L432.28 362.00L429.85 362.00L428.64 360.83" stroke="#64d45e" stroke-width="1.25" fill="none" stroke-linejoin="round" stroke-linecap="round" shape-rendering="geometricPrecision"/>
<path d="M327.50 479.58L329.90 478.10L329.90 487.00M334.54 487.00L337.74 487.00L340.30 484.03L340.30 479.58L338.70 478.10L335.50 478.10L333.90 479.58L333.90 481.96L335.50 483.44L338.70 483.44L340.30 481.96" stroke="#64d45e" stroke-width="1.25" fill="none" stroke-linejoin="round" stroke-linecap="round" shape-rendering="geometricPrecision" transform="rotate(-90 333.90 487.00)"/>
<path d="M346.15 479.08L347.64 477.55L350.63 477.55L352.13 479.08L352.13 480.92L346.15 486.75L352.13 486.75M355.11 479.08L357.35 477.55L357.35 486.75M361.09 486.75L361.69 486.75L361.69 486.14L361.09 486.14L361.09 486.75M370.05 477.55L367.06 477.55L364.67 480.62L364.67 485.22L366.17 486.75L369.16 486.75L370.65 485.22L370.65 482.76L369.16 481.23L366.17 481.23L364.67 482.76" stroke="#64d45e" stroke-width="1.25" fill="none" stroke-linejoin="round" stroke-linecap="round" shape-rendering="geometricPrecision" transform="rotate(-90 358.40 486.75)"/>
<path d="M379.00 487.00L379.00 477.50L374.80 483.83L380.40 483.83M384.60 481.77L383.62 480.35L383.62 478.77L384.74 477.50L387.26 477.50L388.38 478.77L388.38 480.35L387.40 481.77L384.60 481.77L383.20 483.36L383.20 485.57L384.46 487.00L387.54 487.00L388.80 485.57L388.80 483.36L387.40 481.77" stroke="#64d45e" stroke-width="1.25" fill="none" stroke-linejoin="round" stroke-linecap="round" shape-rendering="geometricPrecision" transform="rotate(-90 381.80 487.00)"/>
<path d="M403.24 478.10L400.44 478.10L398.20 481.07L398.20 485.52L399.60 487.00L402.40 487.00L403.80 485.52L403.80 483.14L402.40 481.66L399.60 481.66L398.20 483.14M406.60 479.58L408.00 478.10L410.80 478.10L412.20 479.58L412.20 481.36L406.60 487.00L412.20 487.00" stroke="#64d45e" stroke-width="1.25" fill="none" stroke-linejoin="round" stroke-linecap="round" shape-rendering="geometricPrecision" transform="rotate(-90 405.20 487.00)"/>
<path d="M102.63 605.80L102.63 598.80L98.80 603.47L103.91 603.47M106.46 602.30L111.56 602.30M115.65 605.57L117.69 605.57L118.97 604.63L119.22 602.77L118.97 600.90L117.69 599.97L115.65 599.97L114.37 600.90L114.12 602.77L114.37 604.63L115.65 605.57M113.86 606.15L119.48 599.38M126.37 598.80L123.82 598.80L121.77 601.13L121.77 604.63L123.05 605.80L125.60 605.80L126.88 604.63L126.88 602.77L125.60 601.60L123.05 601.60L121.77 602.77M129.43 605.80L129.94 605.80L129.94 605.33L129.43 605.33L129.43 605.80M133.77 601.95L132.88 600.90L132.88 599.73L133.90 598.80L136.20 598.80L137.22 599.73L137.22 600.90L136.32 601.95L133.77 601.95L132.49 603.12L132.49 604.75L133.64 605.80L136.45 605.80L137.60 604.75L137.60 603.12L136.32 601.95" stroke="#64d45e" stroke-width="1.25" fill="none" stroke-linejoin="round" stroke-linecap="round" shape-rendering="geometricPrecision"/>
<path d="M156.50 600.20L157.23 598.80L159.43 598.80L160.16 599.97L160.16 601.13L158.33 602.77L158.33 604.05M158.33 605.80L158.33 605.33M161.99 598.80L165.65 598.80M163.82 598.80L163.82 605.80M167.48 598.80L167.48 605.80M167.48 602.30L168.40 601.13L170.23 601.13L171.14 602.30L171.14 605.80M172.97 601.13L172.97 605.80M172.97 603.00L174.26 601.13L175.72 601.13M177.55 601.13L177.55 604.63L178.47 605.80L180.30 605.80L181.21 604.63M181.21 601.13L181.21 605.80M183.04 602.30L186.70 602.30M188.53 598.80L188.53 605.80M188.53 602.30L189.45 601.13L191.28 601.13L192.19 602.30L192.19 605.80M194.94 605.80L196.77 605.80L197.69 604.63L197.69 602.30L196.77 601.13L194.94 601.13L194.03 602.30L194.03 604.63L194.94 605.80M199.52 598.80L199.52 605.80M201.35 603.47L205.01 603.47L205.01 602.30L204.09 601.13L202.26 601.13L201.35 602.30L201.35 604.63L202.26 605.80L204.09 605.80L205.01 604.87M206.84 600.20L207.57 598.80L209.77 598.80L210.50 599.97L210.50 601.13L208.67 602.77L208.67 604.05M208.67 605.80L208.67 605.33" stroke="#64d45e" stroke-width="1.25" fill="none" stroke-linejoin="round" stroke-linecap="round" shape-rendering="geometricPrecision"/>
<path d="M102.39 612.67L101.49 611.50L99.70 611.50L98.80 612.67L98.80 613.83L99.70 614.77L101.49 615.00L102.39 616.17L102.39 617.33L101.49 618.50L99.70 618.50L98.80 617.33M104.19 613.83L104.19 620.83M104.19 615.00L105.09 613.83L106.88 613.83L107.78 615.00L107.78 617.33L106.88 618.50L105.09 618.50L104.19 617.33M110.48 618.50L112.27 618.50L113.17 617.33L113.17 615.00L112.27 613.83L110.48 613.83L109.58 615.00L109.58 617.33L110.48 618.50M115.87 611.50L115.87 617.33L116.77 618.50L117.66 618.50M114.97 613.83L117.30 613.83M127.54 611.50L126.65 611.50L125.75 612.67L125.75 618.50M124.85 613.83L127.10 613.83M132.93 613.83L132.93 618.50M132.93 615.00L132.04 613.83L130.24 613.83L129.34 615.00L129.34 617.33L130.24 618.50L132.04 618.50L132.93 617.33M138.32 615.00L137.43 613.83L135.63 613.83L134.73 615.00L134.73 617.33L135.63 618.50L137.43 618.50L138.32 617.33M140.12 613.83L140.12 618.50M140.12 611.97L140.12 611.50M141.92 613.83L141.92 618.50M141.92 615.00L142.82 613.83L144.61 613.83L145.51 615.00L145.51 618.50M150.90 613.83L150.90 619.67L150.00 620.83L148.21 620.83L147.31 620.13M150.90 615.00L150.00 613.83L148.21 613.83L147.31 615.00L147.31 617.33L148.21 618.50L150.00 618.50L150.90 617.33" stroke="#64d45e" stroke-width="1.25" fill="none" stroke-linejoin="round" stroke-linecap="round" shape-rendering="geometricPrecision"/>
<path d="M160.86 618.27L162.81 618.27L164.02 617.33L164.26 615.47L164.02 613.60L162.81 612.67L160.86 612.67L159.64 613.60L159.40 615.47L159.64 617.33L160.86 618.27M159.16 618.85L164.51 612.08M166.70 612.67L168.52 611.50L168.52 618.50M171.56 612.67L173.39 611.50L173.39 618.50M176.43 611.50L181.29 618.50M181.29 611.50L176.43 618.50M184.94 614.65L184.09 613.60L184.09 612.43L185.06 611.50L187.25 611.50L188.22 612.43L188.22 613.60L187.37 614.65L184.94 614.65L183.72 615.82L183.72 617.45L184.82 618.50L187.49 618.50L188.59 617.45L188.59 615.82L187.37 614.65M191.02 618.50L191.51 618.50L191.51 618.03L191.02 618.03L191.02 618.50M198.81 611.50L194.31 611.50L193.94 614.77L195.16 614.18L197.59 614.18L198.81 615.35L198.81 617.33L197.59 618.50L195.16 618.50L193.94 617.33M206.10 611.50L206.10 618.50M206.10 615.00L204.89 613.83L202.45 613.83L201.24 615.00L201.24 617.33L202.45 618.50L204.89 618.50L206.10 617.33M208.54 613.83L208.54 620.83M208.54 615.00L209.75 613.83L212.18 613.83L213.40 615.00L213.40 617.33L212.18 618.50L209.75 618.50L208.54 617.33" stroke="#64d45e" stroke-width="1.25" fill="none" stroke-linejoin="round" stroke-linecap="round" shape-rendering="geometricPrecision"/>
<path d="M98.80 634.00L99.24 634.00L99.24 633.53L98.80 633.53L98.80 634.00M105.76 629.33L105.76 634.00M105.76 630.50L104.67 629.33L102.50 629.33L101.41 630.50L101.41 632.83L102.50 634.00L104.67 634.00L105.76 632.83M107.94 629.33L107.94 634.00M107.94 630.50L109.03 629.33L111.20 629.33L112.29 630.50L112.29 634.00M118.82 627.00L118.82 634.00M118.82 630.50L117.73 629.33L115.55 629.33L114.46 630.50L114.46 632.83L115.55 634.00L117.73 634.00L118.82 632.83M127.52 634.00L127.52 627.00L129.69 631.08L131.87 627.00L131.87 634.00M135.13 630.15L134.37 629.10L134.37 627.93L135.24 627.00L137.20 627.00L138.07 627.93L138.07 629.10L137.31 630.15L135.13 630.15L134.05 631.32L134.05 632.95L135.02 634.00L137.42 634.00L138.40 632.95L138.40 631.32L137.31 630.15M140.57 627.00L144.92 634.00M144.92 627.00L140.57 634.00M147.10 628.17L148.73 627.00L148.73 634.00M151.45 634.00L151.89 634.00L151.89 633.53L151.45 633.53L151.45 634.00M154.06 628.17L155.15 627.00L157.33 627.00L158.41 628.17L158.41 629.57L154.06 634.00L158.41 634.00M164.94 627.00L160.92 627.00L160.59 630.27L161.68 629.68L163.85 629.68L164.94 630.85L164.94 632.83L163.85 634.00L161.68 634.00L160.59 632.83M167.12 627.00L171.47 634.00M171.47 627.00L167.12 634.00M173.64 628.17L175.27 627.00L175.27 634.00M179.08 634.00L181.26 634.00L182.35 632.83L182.35 628.17L181.26 627.00L179.08 627.00L177.99 628.17L177.99 632.83L179.08 634.00M188.87 627.00L188.87 634.00M188.87 630.50L187.79 629.33L185.61 629.33L184.52 630.50L184.52 632.83L185.61 634.00L187.79 634.00L188.87 632.83M191.05 629.33L191.05 636.33M191.05 630.50L192.14 629.33L194.31 629.33L195.40 630.50L195.40 632.83L194.31 634.00L192.14 634.00L191.05 632.83" stroke="#64d45e" stroke-width="1.25" fill="none" stroke-linejoin="round" stroke-linecap="round" shape-rendering="geometricPrecision"/>
<path d="M199.10 630.22L199.82 628.90L201.99 628.90L202.71 630.00L202.71 631.10L200.91 632.64L200.91 633.85M200.91 635.50L200.91 635.06M204.52 635.50L204.52 628.90L207.23 628.90L208.13 630.00L208.13 630.99L207.23 631.98L204.52 631.98M207.23 631.98L208.13 632.97L208.13 634.40L207.23 635.50L204.52 635.50M210.84 635.50L212.65 635.50L213.55 634.40L213.55 632.20L212.65 631.10L210.84 631.10L209.94 632.20L209.94 634.40L210.84 635.50M216.26 628.90L216.26 634.40L217.16 635.50L218.06 635.50M215.36 631.10L217.70 631.10M219.87 628.90L219.87 635.50M219.87 632.20L220.77 631.10L222.58 631.10L223.48 632.20L223.48 635.50M234.32 631.76L233.42 631.10L231.61 631.10L230.71 631.98L231.61 633.08L233.42 633.52L234.32 634.51L233.42 635.50L231.61 635.50L230.71 634.84M236.13 631.10L236.13 635.50M236.13 629.34L236.13 628.90M241.54 628.90L241.54 635.50M241.54 632.20L240.64 631.10L238.84 631.10L237.93 632.20L237.93 634.40L238.84 635.50L240.64 635.50L241.54 634.40M243.35 633.30L246.96 633.30L246.96 632.20L246.06 631.10L244.25 631.10L243.35 632.20L243.35 634.40L244.25 635.50L246.06 635.50L246.96 634.62M252.38 631.76L251.48 631.10L249.67 631.10L248.77 631.98L249.67 633.08L251.48 633.52L252.38 634.51L251.48 635.50L249.67 635.50L248.77 634.84M254.19 630.22L254.91 628.90L257.08 628.90L257.80 630.00L257.80 631.10L255.99 632.64L255.99 633.85M255.99 635.50L255.99 635.06" stroke="#64d45e" stroke-width="1.25" fill="none" stroke-linejoin="round" stroke-linecap="round" shape-rendering="geometricPrecision"/>
<path d="M678.25 415.50L677.50 414.50L675.50 414.50L674.25 415.50L673.25 419.50L674.00 420.50L676.00 420.50L677.25 419.50M679.00 420.50L680.50 414.50M683.00 420.50L684.50 414.50M679.80 417.30L683.80 417.30M690.50 414.50L686.50 414.50L685.00 420.50L689.00 420.50M685.80 417.30L688.80 417.30M692.50 414.50L691.00 420.50L695.00 420.50M697.00 420.50L698.50 414.50M704.25 415.50L703.50 414.50L701.50 414.50L700.25 415.50L699.25 419.50L700.00 420.50L702.00 420.50L703.25 419.50" stroke="#f4f4f4" stroke-width="1.1" fill="none" stroke-linejoin="round" stroke-linecap="round" shape-rendering="geometricPrecision"/>
<path d="M707.00 418.50L708.60 418.50M707.80 418.50L707.80 421.00M709.40 421.00L709.40 418.50L710.20 419.96L711.00 418.50L711.00 421.00" stroke="#eaea6a" stroke-width="0.8" fill="none" stroke-linejoin="round" stroke-linecap="round" shape-rendering="geometricPrecision"/>
<path d="M670.00 427.50L671.69 427.50L671.69 425.00L670.00 425.00L670.00 427.50M672.81 427.50L674.50 427.50L674.50 425.00L672.81 425.00L672.81 427.50" stroke="#eaea6a" stroke-width="0.9" fill="none" stroke-linejoin="round" stroke-linecap="round" shape-rendering="geometricPrecision"/>
<path d="M670.00 431.00L671.64 431.00L671.64 428.50L670.00 428.50L670.00 431.00M672.73 431.00L674.36 431.00L674.36 428.50L672.73 428.50L672.73 431.00M678.73 431.00L680.36 431.00L680.36 428.50L678.73 428.50L678.73 431.00M681.45 431.00L683.09 431.00L683.09 428.50L681.45 428.50L681.45 431.00M684.18 431.00L685.82 431.00L685.82 428.50L684.18 428.50L684.18 431.00M690.18 431.00L691.82 431.00L691.82 428.50L690.18 428.50L690.18 431.00M692.91 431.00L694.55 431.00L694.55 428.50L692.91 428.50L692.91 431.00M695.64 431.00L697.27 431.00L697.27 428.50L695.64 428.50L695.64 431.00M698.36 431.00L700.00 431.00L700.00 428.50L698.36 428.50L698.36 431.00" stroke="#eaea6a" stroke-width="0.9" fill="none" stroke-linejoin="round" stroke-linecap="round" shape-rendering="geometricPrecision"/>
<path d="M685.75 485.87L686.75 485.87L687.38 485.33L687.50 484.27L687.38 483.20L686.75 482.67L685.75 482.67L685.12 483.20L685.00 484.27L685.12 485.33L685.75 485.87M684.88 486.20L687.62 482.33M691.25 482.00L688.94 482.00L688.75 483.87L689.38 483.53L690.62 483.53L691.25 484.20L691.25 485.33L690.62 486.00L689.38 486.00L688.75 485.33M693.12 486.00L694.38 486.00L695.00 485.33L695.00 482.67L694.38 482.00L693.12 482.00L692.50 482.67L692.50 485.33L693.12 486.00" stroke="#64d45e" stroke-width="1.4" fill="none" stroke-linejoin="round" stroke-linecap="round" shape-rendering="geometricPrecision"/>
</g>
</svg>
</body></html>
